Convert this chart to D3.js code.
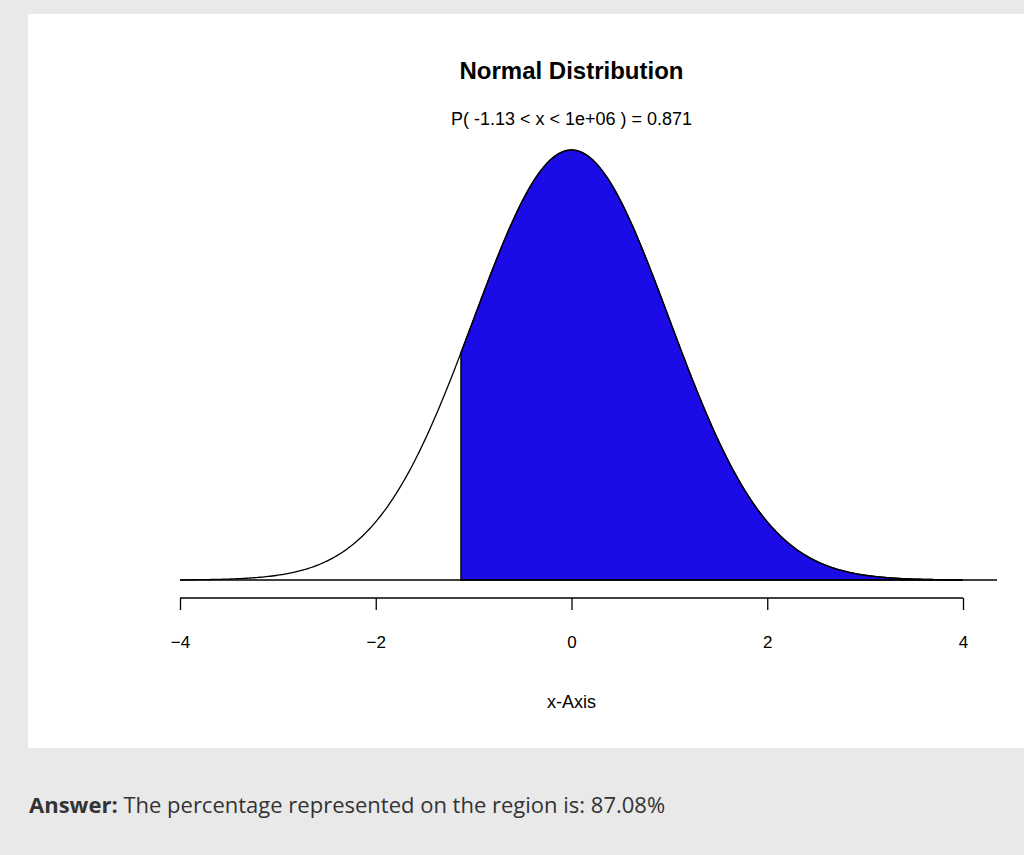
<!DOCTYPE html>
<html><head><meta charset="utf-8">
<script src="https://cdn.jsdelivr.net/npm/d3@7"></script>
<style>
body{margin:0;background:#e9e9e9;}
svg{display:block;}
</style></head>
<body><svg id="c" width="1024" height="855"></svg>
<script>
// chart values
var xTicks = [-4, -2, 0, 2, 4];
var lower = -1.13, upper = 4;   // shaded region shown on the plot
var mean = 0, sd = 1;
var title = "Normal Distribution";
var subtitle = "P( -1.13 < x < 1e+06 ) = 0.871";
var answer = "The percentage represented on the region is: 87.08%";

function dnorm(x) {
    var z = (x - mean) / sd;
    return Math.exp(-0.5 * z * z) / (sd * Math.sqrt(2 * Math.PI));
}

var svg = d3.select("#c");
svg.append("rect").attr("x", 28).attr("y", 14).attr("width", 996).attr("height", 734).attr("fill", "#fff");

var x = d3.scaleLinear().domain([-4, 4]).range([180, 963]);
var y = d3.scaleLinear().domain([0, 0.3989]).range([580, 150]);

var curveX = d3.range(-4, 4.001, 0.02);
var line = d3.line().x(function(d){ return x(d); }).y(function(d){ return y(dnorm(d)); });

// shaded area
var shadeX = d3.range(lower, upper + 0.001, 0.02);
var poly = [[x(lower), y(0)]].concat(shadeX.map(function(d){ return [x(d), y(dnorm(d))]; })).concat([[x(upper), y(0)]]);
svg.append("path").attr("d", "M" + poly.join("L") + "Z")
    .attr("fill", "#1b0be6").attr("stroke", "#000").attr("stroke-width", 1.3);

svg.append("path").attr("d", line(curveX)).attr("fill", "none").attr("stroke", "#000").attr("stroke-width", 1.3);
svg.append("line").attr("x1", x(-4)).attr("x2", 997).attr("y1", y(0)).attr("y2", y(0)).attr("stroke", "#000").attr("stroke-width", 1.3);

// axis
var ax = svg.append("g").attr("transform", "translate(0,598)")
    .call(d3.axisBottom(x).tickValues(xTicks).tickSize(12).tickPadding(26).tickFormat(d3.format("d")));
ax.select(".domain").attr("d", "M" + x(-4) + ",0H" + x(4)).attr("stroke-width", 1.3);
ax.selectAll(".tick line").attr("y1", 0).attr("y2", 12).attr("stroke-width", 1.3);
ax.selectAll("text").attr("font-family", "Liberation Sans, Arial, sans-serif").attr("font-size", 17).attr("fill", "#000");

var f = "Liberation Sans, Arial, sans-serif";
svg.append("text").attr("x", x(0)).attr("y", 703).attr("text-anchor", "middle").attr("dominant-baseline", "middle")
    .attr("font-family", f).attr("font-size", 18).text("x-Axis");
svg.append("text").attr("x", x(0)).attr("y", 73).attr("text-anchor", "middle").attr("dominant-baseline", "middle")
    .attr("font-family", f).attr("font-size", 24).attr("font-weight", "bold").text(title);
svg.append("text").attr("x", x(0)).attr("y", 120).attr("text-anchor", "middle").attr("dominant-baseline", "middle")
    .attr("font-family", f).attr("font-size", 18).text(subtitle);

var a = svg.append("text").attr("x", 29).attr("y", 813).attr("font-family", "Open Sans, sans-serif").attr("font-size", 22).attr("fill", "#333");
a.append("tspan").attr("font-weight", "bold").text("Answer:");
a.append("tspan").text(" " + answer);
</script></body></html>
